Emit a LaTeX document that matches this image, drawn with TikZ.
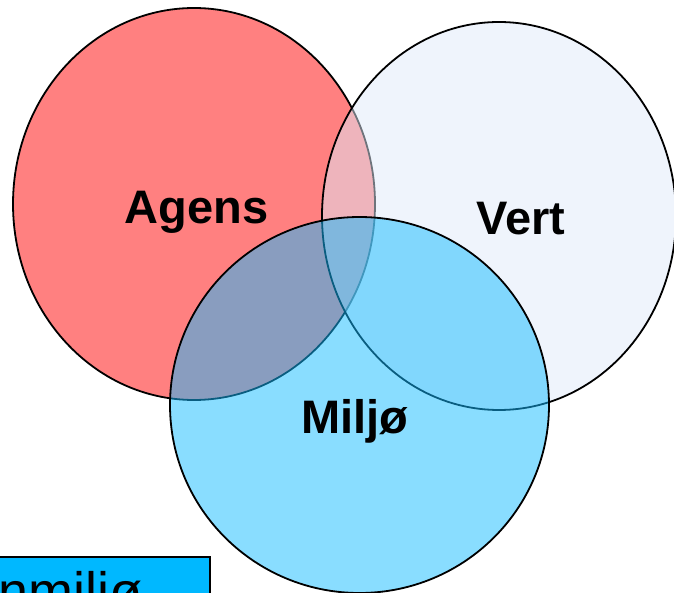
\documentclass[tikz,border=0pt]{standalone}
\usepackage{fontspec}
\setmainfont{Liberation Sans}
\definecolor{agensred}{RGB}{255,128,128}
\definecolor{vertfill}{RGB}{223,233,249}
\definecolor{miljofill}{RGB}{20,187,255}
\definecolor{boxfill}{RGB}{0,184,255}
\begin{document}
\begin{tikzpicture}[x=1pt,y=-1pt,
  setring/.style={draw=black,line width=1.8pt},
  setlabel/.style={font=\fontsize{47}{50}\selectfont\bfseries,anchor=base,inner sep=0pt},
  tagbox/.style={draw=black,line width=1.8pt,fill=boxfill}]
\useasboundingbox (0,0) rectangle (674,593);
\path[setring,fill=agensred] (194,204) ellipse [x radius=181,y radius=196];
\path[setring,fill=vertfill,opacity=0.5,draw opacity=1] (499,216) ellipse [x radius=177,y radius=194];
\path[setring,fill=miljofill,fill opacity=0.5] (359.5,405) ellipse [x radius=189.5,y radius=188];
\node[setlabel] (agens) at (196.5,224) {Agens};
\node[setlabel] (vert) at (521,235) {Vert};
\node[setlabel] (miljo) at (355,433) {Miljø};
\path[tagbox] (-10,557) rectangle (210,610);
\node[font=\fontsize{54}{60}\selectfont,anchor=base east,inner sep=0pt] (tag) at (143,610) {onmiljø};
\end{tikzpicture}
\end{document}
